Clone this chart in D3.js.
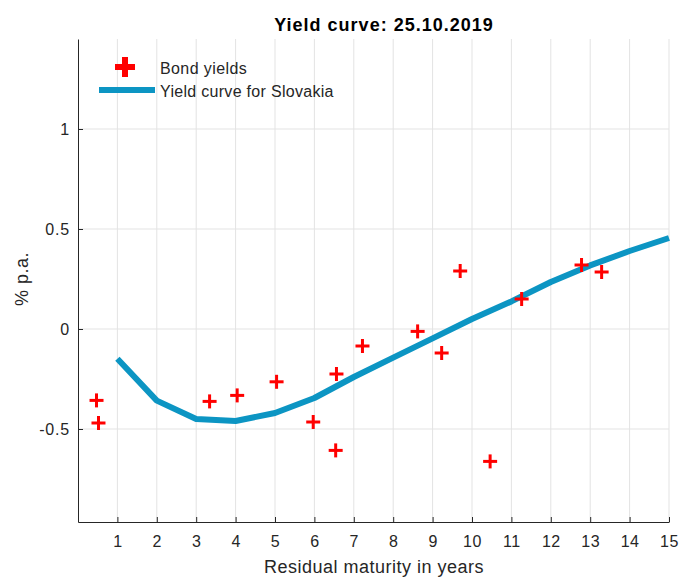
<!DOCTYPE html>
<html><head><meta charset="utf-8">
<script src="https://cdn.jsdelivr.net/npm/d3@7"></script>
<style>body{margin:0;background:#fff;}svg{display:block;font-family:"Liberation Sans",Arial,sans-serif;}</style>
</head><body>
<svg id="c" width="679" height="578"></svg>
<script>
const bondX = [0.47, 0.52, 3.34, 4.04, 5.04, 5.97, 6.56, 6.54, 7.22, 8.62, 9.23, 9.70, 10.46, 11.26, 12.78, 13.29];
const bondY = [-0.357, -0.47, -0.362, -0.332, -0.264, -0.465, -0.225, -0.607, -0.085, -0.012, -0.12, 0.29, -0.662, 0.15, 0.32, 0.285];
const curveX = [1,2,3,4,5,6,7,8,9,10,11,12,13,14,15];
const curveY = [-0.149, -0.358, -0.45, -0.46, -0.42, -0.345, -0.24, -0.143, -0.047, 0.05, 0.138, 0.235, 0.318, 0.39, 0.455];
const xTicks = [1,2,3,4,5,6,7,8,9,10,11,12,13,14,15];
const yTicks = [-0.5, 0, 0.5, 1];
const yTickLabels = ["-0.5", "0", "0.5", "1"];

const FF = '"Liberation Sans",Arial,sans-serif';
const svg = d3.select("#c");
const L = 78, R = 669, T = 39, B = 522;
const x = d3.scaleLinear().domain([0, 15]).range([L, R]);
const y = d3.scaleLinear().domain([-0.965, 1.45]).range([B, T]);

// grid
svg.append("g").selectAll("line").data(xTicks).join("line")
  .attr("x1", d => x(d)).attr("x2", d => x(d)).attr("y1", T).attr("y2", B)
  .attr("stroke", "#e3e3e3").attr("stroke-width", 1);
svg.append("g").selectAll("line").data(yTicks).join("line")
  .attr("x1", L).attr("x2", R).attr("y1", d => y(d)).attr("y2", d => y(d))
  .attr("stroke", "#e3e3e3").attr("stroke-width", 1);

// axes
const xAxis = d3.axisBottom(x).tickValues(xTicks).tickSizeInner(-5).tickSizeOuter(0).tickPadding(14);
const gx = svg.append("g").attr("transform", `translate(0,${B})`).call(xAxis);
gx.select(".domain").attr("stroke", "#262626");
gx.selectAll(".tick line").attr("stroke", "#262626");
gx.selectAll("text").attr("fill", "#262626").style("font-size", "16px")
  .style("font-family", FF).style("letter-spacing", "0.5px");

const yAxis = d3.axisLeft(y).tickValues(yTicks).tickFormat((d,i) => yTickLabels[i]).tickSizeInner(-5).tickSizeOuter(0).tickPadding(8);
const gy = svg.append("g").attr("transform", `translate(${L},0)`).call(yAxis);
gy.select(".domain").attr("stroke", "#262626");
gy.selectAll(".tick line").attr("stroke", "#262626");
gy.selectAll("text").attr("fill", "#262626").style("font-size", "16px")
  .style("font-family", FF).style("letter-spacing", "0.8px");

// curve
const line = d3.line().x((d,i) => x(curveX[i])).y(d => y(d));
svg.append("path").datum(curveY).attr("d", line)
  .attr("fill", "none").attr("stroke", "#0c95c3").attr("stroke-width", 6).attr("stroke-linejoin", "round");

// markers
const plus = (g, cx, cy, s, w) => {
  g.append("line").attr("x1", cx - s).attr("x2", cx + s).attr("y1", cy).attr("y2", cy)
    .attr("stroke", "#ff0000").attr("stroke-width", w);
  g.append("line").attr("x1", cx).attr("x2", cx).attr("y1", cy - s).attr("y2", cy + s)
    .attr("stroke", "#ff0000").attr("stroke-width", w);
};
const mg = svg.append("g");
bondX.forEach((bx, i) => plus(mg, x(bx), y(bondY[i]), 7, 3));

// legend
const lg = svg.append("g");
plus(lg, 125, 67, 10, 6);
lg.append("line").attr("x1", 99).attr("x2", 155).attr("y1", 90).attr("y2", 90)
  .attr("stroke", "#0c95c3").attr("stroke-width", 6);
lg.append("text").attr("x", 160).attr("y", 74).text("Bond yields").attr("fill", "#262626")
  .style("font-size", "16px").style("letter-spacing", "0.4px");
lg.append("text").attr("x", 160).attr("y", 97).text("Yield curve for Slovakia").attr("fill", "#262626")
  .style("font-size", "16px").style("letter-spacing", "0.3px");

// title & labels
svg.append("text").attr("x", 384).attr("y", 31).attr("text-anchor", "middle")
  .style("font-size", "18px").style("font-weight", "bold").style("letter-spacing", "1px")
  .attr("fill", "#000").text("Yield curve: 25.10.2019");
svg.append("text").attr("x", 374).attr("y", 573).attr("text-anchor", "middle")
  .style("font-size", "18px").style("letter-spacing", "0.5px").attr("fill", "#262626").text("Residual maturity in years");
svg.append("text").attr("transform", "translate(28,279) rotate(-90)").attr("text-anchor", "middle")
  .style("font-size", "18px").style("letter-spacing", "0.5px").attr("fill", "#262626").text("% p.a.");
</script>
</body></html>
